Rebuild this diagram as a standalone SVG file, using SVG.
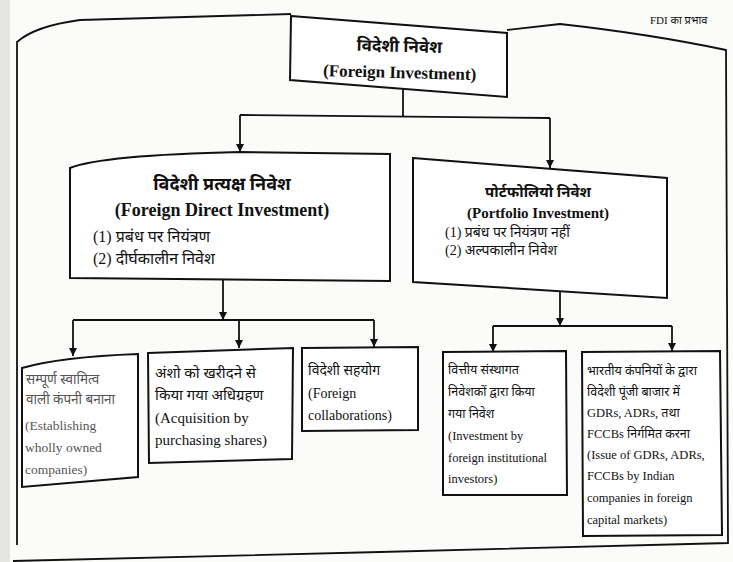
<svg xmlns="http://www.w3.org/2000/svg" width="733" height="562" viewBox="0 0 733 562">
<style>
.box{fill:#fff;stroke:#111;stroke-width:2}
.ln{fill:none;stroke:#111;stroke-width:1.8}
.t{font-family:"Liberation Serif","Noto Sans",serif;fill:#111}
.b{font-weight:bold}
.fade{fill:#555}
</style>
<defs>
<marker id="ah" viewBox="0 0 10 10" refX="10" refY="5" markerWidth="8" markerHeight="8" markerUnits="userSpaceOnUse" orient="auto"><path d="M0,0 L10,5 L0,10 z" fill="#111"/></marker>
</defs>
<rect x="0" y="0" width="733" height="562" fill="#fbfbfa"/>
<rect x="0" y="0" width="10" height="562" fill="#e4e4e2"/>
<g id="frame">
<path class="ln" d="M17,545 L17,42 Q35,26 80,20 L291,14 M507,30 L560,24 Q650,34 726,50 L728,543 L380,552 L13,561"/>
</g>
<g id="note">
<text class="t" x="650" y="24" font-size="11">FDI का प्रभाव</text>
</g>
<g id="connectors">
<path class="ln" d="M403,88 L403,116 M240,115 L550,118"/>
<path class="ln" d="M240,115 L240,152" marker-end="url(#ah)"/>
<path class="ln" d="M550,118 L550,168" marker-end="url(#ah)"/>
<path class="ln" d="M223,279 L223,320" marker-end="url(#ah)"/>
<path class="ln" d="M73,320 L374,320"/>
<path class="ln" d="M73,320 L73,356" marker-end="url(#ah)"/>
<path class="ln" d="M239,320 L239,348" marker-end="url(#ah)"/>
<path class="ln" d="M374,320 L374,347" marker-end="url(#ah)"/>
<path class="ln" d="M560,292 L560,326" marker-end="url(#ah)"/>
<path class="ln" d="M493,326 L672,326"/>
<path class="ln" d="M493,326 L493,352" marker-end="url(#ah)"/>
<path class="ln" d="M672,326 L672,351" marker-end="url(#ah)"/>
</g>
<g id="foreign-investment">
<polygon class="box" points="291,16 507,33 507,97 290,80"/>
<g transform="rotate(1.5 400 60)">
<text class="t b" x="399" y="52" font-size="17" text-anchor="middle">विदेशी निवेश</text>
<text class="t b" x="400" y="78" font-size="17" text-anchor="middle">(Foreign Investment)</text>
</g>
</g>
<g id="fdi">
<path class="box" d="M70,168 C90,160 150,154 240,152 L390,154 L390,281 L70,278 Z"/>
<text class="t b" x="222" y="190" font-size="18" text-anchor="middle">विदेशी प्रत्यक्ष निवेश</text>
<text class="t b" x="222" y="216" font-size="18" text-anchor="middle">(Foreign Direct Investment)</text>
<text class="t" x="93" y="242" font-size="16">(1) प्रबंध पर नियंत्रण</text>
<text class="t" x="93" y="264" font-size="16">(2) दीर्घकालीन निवेश</text>
</g>
<g id="portfolio">
<polygon class="box" points="413,158 667,178 667,298 413,282"/>
<text class="t b" x="538" y="197" font-size="15" text-anchor="middle">पोर्टफोलियो निवेश</text>
<text class="t b" x="538" y="218" font-size="15" text-anchor="middle">(Portfolio Investment)</text>
<text class="t" x="445" y="237" font-size="14">(1) प्रबंध पर नियंत्रण नहीं</text>
<text class="t" x="445" y="255" font-size="14">(2) अल्पकालीन निवेश</text>
</g>
<g id="wholly-owned">
<path class="box" d="M22,368 Q60,357 138,354 L138,477 L22,487 Z"/>
<text class="t fade" font-size="13.5"><tspan x="26" y="384">सम्पूर्ण स्वामित्व</tspan><tspan x="26" y="404">वाली कंपनी बनाना</tspan><tspan x="25" y="430">(Establishing</tspan><tspan x="25" y="452">wholly owned</tspan><tspan x="25" y="474">companies)</tspan></text>
</g>
<g id="acquisition">
<polygon class="box" points="148,353 293,348 292,459 149,463"/>
<text class="t" font-size="15"><tspan x="155" y="378">अंशो को खरीदने से</tspan><tspan x="155" y="400">किया गया अधिग्रहण</tspan><tspan x="155" y="423">(Acquisition by</tspan><tspan x="155" y="445">purchasing shares)</tspan></text>
</g>
<g id="collaborations">
<polygon class="box" points="302,348 418,347 418,430 302,431"/>
<text class="t" font-size="14"><tspan x="308" y="375">विदेशी सहयोग</tspan><tspan x="308" y="398">(Foreign</tspan><tspan x="308" y="420">collaborations)</tspan></text>
</g>
<g id="fii">
<polygon class="box" points="443,352 566,351 567,495 443,495"/>
<text class="t" font-size="12.5"><tspan x="448" y="374">वित्तीय संस्थागत</tspan><tspan x="448" y="396">निवेशकों द्वारा किया</tspan><tspan x="448" y="418">गया निवेश</tspan><tspan x="448" y="440">(Investment by</tspan><tspan x="448" y="462">foreign institutional</tspan><tspan x="448" y="483">investors)</tspan></text>
</g>
<g id="gdr">
<polygon class="box" points="582,352 720,351 722,535 583,536"/>
<text class="t" font-size="12.5"><tspan x="587" y="375">भारतीय कंपनियों के द्वारा</tspan><tspan x="587" y="396">विदेशी पूंजी बाजार में</tspan><tspan x="587" y="417">GDRs, ADRs, तथा</tspan><tspan x="587" y="438">FCCBs निर्गमित करना</tspan><tspan x="587" y="459">(Issue of GDRs, ADRs,</tspan><tspan x="587" y="480">FCCBs by Indian</tspan><tspan x="587" y="502">companies in foreign</tspan><tspan x="587" y="524">capital markets)</tspan></text>
</g>
</svg>
